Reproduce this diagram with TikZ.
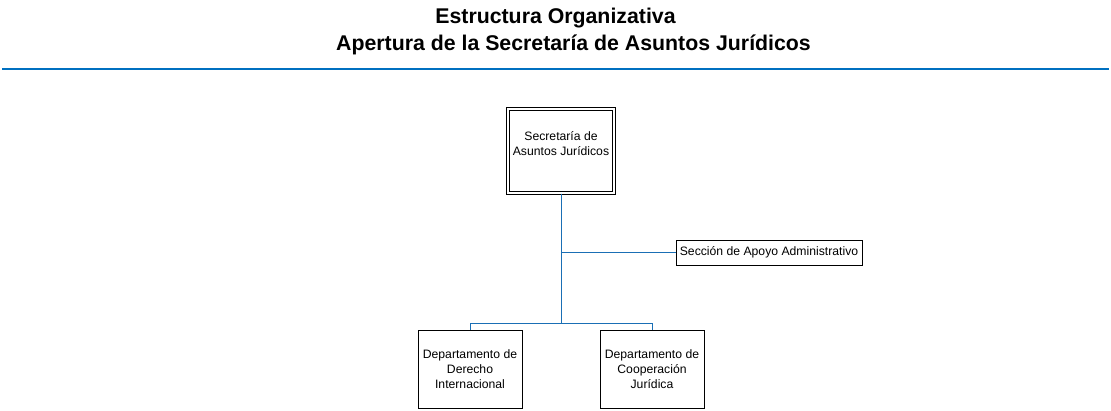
\documentclass[tikz,border=0pt]{standalone}
\usepackage{fontspec}
\setmainfont{Liberation Sans}
\definecolor{conn}{HTML}{1A6FB5}
\definecolor{rule}{HTML}{0070C0}
\begin{document}
\begin{tikzpicture}[x=1pt,y=-1pt,
  box/.style={draw=black,line width=1pt,fill=white,inner sep=0pt},
  txt/.style={font=\fontsize{12.2}{15}\selectfont,align=center,inner sep=0pt},
  link/.style={draw=conn,line width=1pt}]
\useasboundingbox (0,0) rectangle (1111,410);
\node[font=\bfseries\fontsize{21.3}{24}\selectfont,inner sep=0pt] (t1) at (555.5,18) {Estructura Organizativa};
\node[font=\bfseries\fontsize{21.3}{24}\selectfont,inner sep=0pt] (t2) at (573.5,45) {Apertura de la Secretaría de Asuntos Jurídicos};
\coordinate (rl) at (2,68.5);
\coordinate (rr) at (1109,68.5);
\draw[rule,line width=2pt] (rl) -- (rr);
% main box
\node[box,minimum width=106pt,minimum height=84pt,double,line width=1.2pt,double distance=2pt] (sec) at (561,151) {};
\node[txt] (sect) at (561,143.5) {Secretaría de\\Asuntos Jurídicos};
% side box
\node[box,minimum width=186pt,minimum height=25pt] (apo) at (769,252.5) {};
\node[txt] at (apo) {Sección de Apoyo Administrativo};
% bottom boxes
\node[box,minimum width=104pt,minimum height=78pt,txt,draw,line width=1pt] (der) at (470,369) {Departamento de\\Derecho\\Internacional};
\node[box,minimum width=104pt,minimum height=78pt,txt,draw,line width=1pt] (coo) at (652,369) {Departamento de\\Cooperación\\Jurídica};
% connectors
\coordinate (bus) at (561,323.5);
\draw[link] (sec.south) -- (bus);
\draw[link] (sec.south |- apo.west) -- (apo.west);
\draw[link] (der.north) |- (bus) -| (coo.north);
\end{tikzpicture}
\end{document}
